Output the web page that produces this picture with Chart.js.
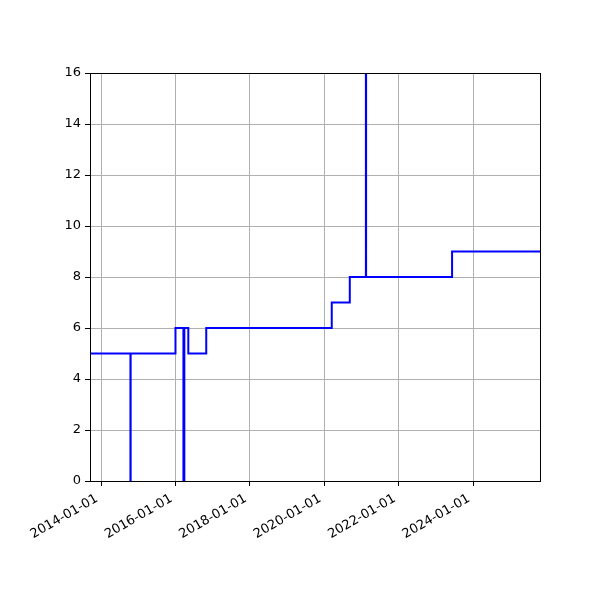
<!DOCTYPE html>
<html>
<head>
<meta charset="utf-8">
<script src="https://cdn.jsdelivr.net/npm/chart.js@4/dist/chart.umd.min.js"></script>
<style>
  html, body { margin: 0; padding: 0; background: #fff; }
  #wrap { width: 600px; height: 600px; }
</style>
</head>
<body>
<div id="wrap"><canvas id="stepChart"></canvas></div>
<script>
// DATA
const changeDates = [
  "2013-09-15", "2014-10-17", "2014-10-19", "2016-01-02", "2016-03-20",
  "2016-03-29", "2016-05-07", "2016-10-30", "2020-03-15", "2020-09-08",
  "2021-02-13", "2021-02-15", "2023-06-09", "2025-10-19"
];
const counts = [5, 0, 5, 6, 0, 6, 5, 6, 7, 8, 16, 8, 9, 9];
const tickDates = ["2014-01-01", "2016-01-01", "2018-01-01", "2020-01-01", "2022-01-01", "2024-01-01"];
const yTicks = [0, 2, 4, 6, 8, 10, 12, 14, 16];
const xStart = "2013-09-15";
const xEnd = "2025-10-19";

const toMs = d => new Date(d).getTime();
const points = changeDates.map((d, i) => ({ x: toMs(d), y: counts[i] }));

// FRAME round the plot area
const framePlugin = {
  id: "frame",
  afterDraw(chart) {
    const a = chart.chartArea;
    const ctx = chart.ctx;
    ctx.save();
    ctx.strokeStyle = "#000";
    ctx.lineWidth = 1;
    ctx.strokeRect(Math.round(a.left) + 0.5, Math.round(a.top) + 0.5,
                   Math.round(a.right - a.left), Math.round(a.bottom - a.top));
    ctx.restore();
  }
};

Chart.defaults.font.family = "'DejaVu Sans', sans-serif";
Chart.defaults.font.size = 13;
Chart.defaults.color = "#000";

new Chart(document.getElementById("stepChart"), {
  type: "line",
  data: {
    datasets: [{
      data: points,
      borderColor: "#0000ff",
      borderWidth: 2,
      stepped: "before",
      pointRadius: 0,
      fill: false
    }]
  },
  options: {
    responsive: true,
    maintainAspectRatio: false,
    animation: false,
    layout: { padding: { top: 73, right: 60, left: 0, bottom: 0 } },
    plugins: { legend: { display: false }, tooltip: { enabled: false } },
    scales: {
      x: {
        type: "linear",
        min: toMs(xStart),
        max: toMs(xEnd),
        afterBuildTicks: scale => {
          scale.ticks = tickDates.map(d => ({ value: toMs(d) }));
        },
        afterFit: scale => { scale.height = 119; },
        ticks: {
          minRotation: 30,
          maxRotation: 30,
          autoSkip: false,
          padding: 5,
          labelOffset: -4,
          color: "#000",
          callback: v => new Date(v).toISOString().slice(0, 10)
        },
        grid: { color: "#b0b0b0", lineWidth: 1, tickColor: "#000", tickLength: 5 },
        border: { color: "#000", width: 1 }
      },
      y: {
        min: 0,
        max: 16,
        afterBuildTicks: scale => {
          scale.ticks = yTicks.map(v => ({ value: v }));
        },
        afterFit: scale => { scale.width = 90; },
        ticks: { padding: 4, color: "#000" },
        grid: { color: "#b0b0b0", lineWidth: 1, tickColor: "#000", tickLength: 5 },
        border: { color: "#000", width: 1 }
      }
    }
  },
  plugins: [framePlugin]
});
</script>
</body>
</html>
